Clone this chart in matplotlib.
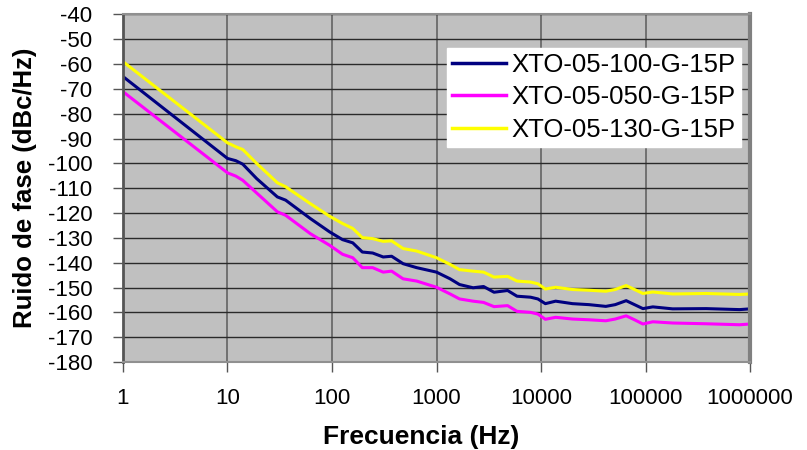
import numpy as np
import matplotlib.pyplot as plt
from matplotlib.ticker import FixedLocator, FuncFormatter, NullLocator

# Frequencies (Hz) and phase noise readings (dBc/Hz) for each oscillator
FREQ = [1, 10, 12, 14, 19, 30, 36, 62, 95, 126, 158, 195, 245, 309, 372, 479, 646,
        1000, 1350, 1660, 2240, 2820, 3550, 4790, 5890, 7940, 9330, 11000, 13800,
        20000, 28800, 41700, 51300, 65300, 78500, 94400, 117500, 182000, 380000,
        794000, 1000000]

XTO_100 = [-65, -98, -98.9, -100.3, -106.1, -113.5, -114.8, -122.2, -127.6, -130.7,
           -132, -135.7, -136.1, -137.7, -137.4, -140.4, -142, -143.8, -146.5, -148.8,
           -150.1, -149.6, -151.9, -151.2, -153.5, -153.9, -154.6, -156.5, -155.5,
           -156.5, -156.9, -157.6, -156.9, -155.3, -156.9, -158.5, -157.8, -158.6,
           -158.5, -158.9, -158.6]

XTO_050 = [-71.1, -103.8, -105.1, -106.8, -111.9, -119.5, -120.9, -128.3, -133, -136.6,
           -138, -142, -142, -143.8, -143.4, -146.5, -147.4, -149.9, -152.6, -154.6,
           -155.5, -156, -157.7, -157.3, -159.6, -160, -160.7, -162.8, -162,
           -162.7, -163, -163.4, -162.7, -161.4, -163, -164.7, -163.8, -164.3,
           -164.6, -165, -164.7]

XTO_130 = [-59, -91.7, -93.3, -94.4, -100, -107.8, -109.4, -116.2, -121.3, -124.2,
           -126.2, -129.9, -130.3, -131.4, -131.2, -134.3, -135.3, -138, -140.7, -142.8,
           -143.4, -143.8, -145.8, -145.5, -147.4, -147.8, -148.5, -150.6, -149.9,
           -150.8, -151.1, -151.5, -150.8, -149.2, -150.8, -152.4, -151.8, -152.6,
           -152.4, -152.8, -152.6]

SERIES = [
    ('XTO-05-100-G-15P', XTO_100, '#000080'),
    ('XTO-05-050-G-15P', XTO_050, '#FF00FF'),
    ('XTO-05-130-G-15P', XTO_130, '#FFFF00'),
]

XTICKS = [1, 10, 100, 1000, 10000, 100000, 1000000]
YTICKS = list(range(-180, -39, 10))

plt.rcParams['font.family'] = ['Liberation Sans', 'DejaVu Sans']
plt.rcParams['axes.unicode_minus'] = False

fig = plt.figure(figsize=(8.07, 4.5), dpi=100)
ax = fig.add_axes([0.1524, 0.1956, 0.777, 0.7722])
ax.set_facecolor('#C0C0C0')

for name, vals, col in SERIES:
    ax.plot(FREQ, vals, color=col, lw=2.2, label=name, solid_joinstyle='round')

ax.set_xscale('log')
ax.set_xlim(1, 1e6)
ax.set_ylim(-180, -40)

ax.xaxis.set_major_locator(FixedLocator(XTICKS))
ax.xaxis.set_minor_locator(NullLocator())
ax.xaxis.set_major_formatter(FuncFormatter(lambda v, p: '%d' % round(v)))
ax.yaxis.set_major_locator(FixedLocator(YTICKS))
ax.yaxis.set_major_formatter(FuncFormatter(lambda v, p: '%d' % round(v)))

# grid: vertical lines grey, horizontal lines dark
ax.grid(axis='x', color='#707070', lw=1.4)
ax.grid(axis='y', color='#2a2a2a', lw=1.0)
ax.set_axisbelow(True)

ax.tick_params(axis='both', direction='out', length=7, width=1, color='#555555',
               labelsize=16, labelcolor='black')
ax.tick_params(axis='y', pad=15)
ax.tick_params(axis='x', pad=12)

ax.spines['left'].set_color('#555555')
ax.spines['left'].set_linewidth(2)
ax.spines['right'].set_color('#808080')
ax.spines['right'].set_linewidth(3)
ax.spines['top'].set_color('#909090')
ax.spines['top'].set_linewidth(1.5)
ax.spines['bottom'].set_color('#909090')
ax.spines['bottom'].set_linewidth(1.5)

ax.set_xlabel('Frecuencia (Hz)', fontsize=19, fontweight='bold', labelpad=11)
ax.xaxis.set_label_coords(0.476, -0.18, transform=ax.transAxes)
ax.xaxis.label.set_va('top')
ax.set_ylabel('Ruido de fase (dBc/Hz)', fontsize=18.5, fontweight='bold', labelpad=8)

leg = ax.legend(loc='upper right', bbox_to_anchor=(0.985, 0.905), fontsize=18.5,
                frameon=True, fancybox=False, framealpha=1, edgecolor='white',
                handlelength=2.1, handletextpad=0.2, labelspacing=0.33,
                borderpad=0.2, borderaxespad=0)
for line in leg.get_lines():
    line.set_linewidth(2.5)

fig.savefig('out.png', dpi=100)
